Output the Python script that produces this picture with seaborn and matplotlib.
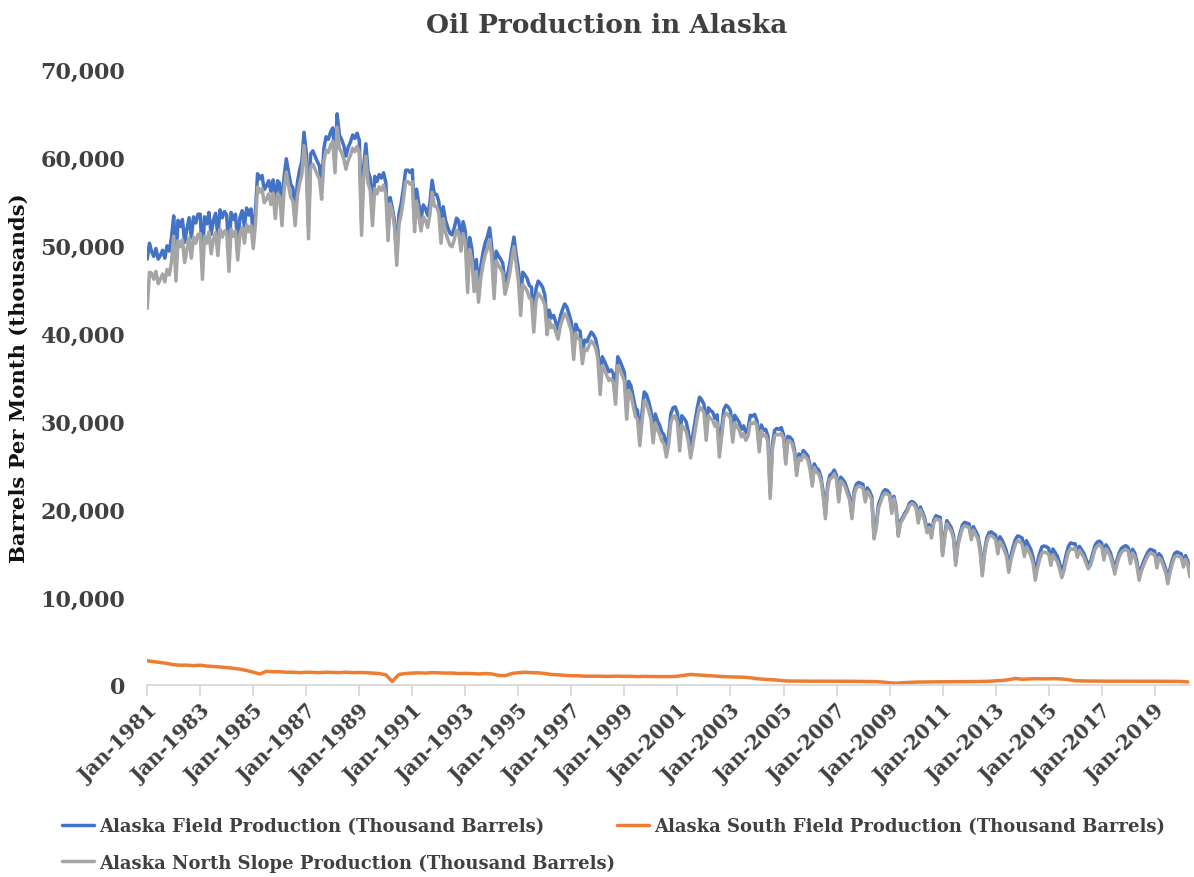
import pandas as pd
import numpy as np
import matplotlib
matplotlib.use("Agg")
import matplotlib.pyplot as plt
import matplotlib.dates as mdates
from matplotlib.ticker import FuncFormatter
import seaborn as sns

# -----------------------
# Data (thousand barrels per month), monthly from Jan-1981, one year per row
# -----------------------

field_production = [
    48400, 50200, 49300, 48700, 49600, 48400, 48800, 49400, 48500, 49900, 49300, 50800,
    53300, 48200, 52800, 52100, 52900, 50300, 51800, 53100, 50800, 53200, 52500, 53500,
    53500, 48300, 53200, 52400, 53700, 51200, 52800, 53600, 51000, 54000, 53100, 53800,
    53400, 48900, 53700, 52900, 53500, 50200, 53100, 53900, 52100, 54200, 53400, 54100,
    51100, 54000, 58100, 57500, 57900, 56300, 56700, 57300, 56100, 57400, 54500, 57300,
    57000, 53700, 57700, 59800, 58300, 56900, 56500, 53700, 57100, 58500, 59500, 62800,
    60500, 52200, 60300, 60700, 60100, 59500, 59000, 56700, 61000, 62300, 62000, 62800,
    63300, 59700, 64900, 62500, 62000, 61300, 60100, 61100, 61700, 62500, 62100, 62700,
    61900, 52500, 58900, 61500, 58400, 57600, 53600, 57800, 57200, 58000, 57600, 58200,
    57100, 51500, 55400, 54200, 52700, 48700, 53500, 54750, 56500, 58500, 58500, 58250,
    58550, 52850, 56350, 54650, 52950, 54550, 54150, 53350, 54850, 57350, 55750, 55750,
    54950, 51550, 54350, 52850, 52050, 51350, 51150, 51950, 53050, 52750, 50650, 52650,
    51550, 45950, 50850, 49550, 46050, 48350, 44850, 47550, 49150, 50250, 50950, 51950,
    49600, 45000, 49300, 48800, 48400, 47900, 45500, 46500, 47700, 49400, 50900, 49000,
    47300, 43400, 46900, 46600, 46200, 45400, 45200, 41500, 45000, 45900, 45600, 45200,
    44300, 40900, 42600, 41700, 42000, 41200, 40400, 41900, 42700, 43300, 42900, 42100,
    41200, 38000, 41000, 40400, 40200, 37500, 39200, 39000, 39600, 40100, 39800, 39300,
    38000, 34000, 37300, 36800, 36200, 35600, 35800, 35400, 32900, 37300, 36800, 36200,
    35500, 31200, 34500, 34000, 32800, 31500, 31200, 28200, 31000, 33300, 33000, 32200,
    31200, 28500, 30800, 30000, 29500, 28700, 28400, 26900, 28300, 30800, 31500, 31600,
    30900, 27700, 30600, 30300, 29900, 28700, 26900, 28400, 30000, 31500, 32700, 32400,
    31900, 28700, 31500, 31200, 31000, 30300, 30700, 26800, 29100, 31300, 31800, 31600,
    31150, 28450, 30650, 30250, 29850, 29050, 29450, 28650, 29150, 30650, 30550, 30750,
    30050, 27150, 29550, 28950, 29050, 28250, 21850, 27450, 28950, 29150, 29050, 29250,
    28450, 25550, 28250, 28150, 27850, 26750, 24250, 26250, 25950, 26650, 26350, 26050,
    24930, 23030, 25130, 24630, 24430, 23630, 21930, 19330, 22730, 23830, 24030, 24430,
    23820, 21220, 23620, 23320, 22920, 22120, 21420, 19320, 22020, 22820, 23020, 22920,
    22800, 21200, 22400, 22000, 21400, 17000, 18200, 20500, 21200, 21900, 22200, 22100,
    21750, 19750, 21450, 20250, 17150, 18650, 19050, 19550, 19950, 20650, 20850, 20750,
    20430, 18730, 20230, 19630, 18930, 17630, 18230, 17030, 18730, 19230, 19130, 19030,
    15080, 17180, 18680, 18280, 17880, 16980, 13980, 16180, 17280, 18180, 18480, 18380,
    18300, 16900, 18000, 17500, 17000, 15600, 12800, 15200, 16700, 17300, 17400, 17200,
    17050, 15450, 16850, 16450, 15850, 15150, 13350, 14750, 15750, 16550, 16950, 16850,
    16700, 15300, 16400, 15900, 15400, 14500, 12600, 14000, 15000, 15700, 15800, 15700,
    15550, 14250, 15450, 15050, 14650, 13850, 12850, 13650, 14850, 15750, 16150, 16050,
    16050, 14950, 15750, 15350, 14950, 14250, 13650, 14050, 14950, 15850, 16250, 16350,
    16130, 14630, 15930, 15530, 15030, 14130, 13030, 14230, 15030, 15530, 15730, 15830,
    15620, 14220, 15420, 15020, 14020, 12320, 13320, 14020, 14620, 15120, 15420, 15320,
    15220, 13720, 14920, 14620, 13920, 13220, 11920, 13220, 14220, 14920, 15120, 15020,
    14900, 13800, 14700, 14100, 12700,
]

north_slope_production = [
    42800, 46900, 46800, 46100, 47000, 45600, 46100, 46700, 45800, 47200, 46600, 48100,
    51000, 45900, 50500, 49800, 50600, 48000, 49500, 50800, 48500, 50900, 50200, 51200,
    51300, 46100, 51000, 50200, 51500, 49000, 50600, 51400, 48800, 51800, 50900, 51600,
    51500, 47000, 51800, 51000, 51600, 48300, 51200, 52000, 50200, 52300, 51500, 52200,
    49600, 52500, 56600, 56000, 56400, 54800, 55200, 55800, 54600, 55900, 53000, 55800,
    55500, 52200, 56200, 58300, 56800, 55400, 55000, 52200, 55600, 57000, 58000, 61300,
    59000, 50700, 58800, 59200, 58600, 58000, 57500, 55200, 59500, 60800, 60500, 61300,
    61800, 58200, 63400, 61000, 60500, 59800, 58600, 59600, 60200, 61000, 60600, 61200,
    60500, 51100, 57500, 60100, 57000, 56200, 52200, 56400, 55800, 56600, 56200, 56800,
    55800, 50500, 54700, 53800, 52000, 47700, 52300, 53500, 55200, 57200, 57200, 56900,
    57200, 51500, 55000, 53300, 51600, 53200, 52800, 52000, 53500, 56000, 54400, 54400,
    53600, 50200, 53000, 51500, 50700, 50000, 49800, 50600, 51700, 51400, 49300, 51300,
    50200, 44600, 49500, 48200, 44700, 47000, 43500, 46200, 47800, 48900, 49600, 50600,
    48500, 43900, 48200, 47700, 47300, 46800, 44400, 45400, 46600, 48300, 49800, 47900,
    45900, 42000, 45500, 45200, 44800, 44000, 43800, 40100, 43600, 44500, 44200, 43800,
    43200, 39800, 41500, 40600, 40900, 40100, 39300, 40800, 41600, 42200, 41800, 41000,
    40200, 37000, 40000, 39400, 39200, 36500, 38200, 38000, 38600, 39100, 38800, 38300,
    37000, 33000, 36300, 35800, 35200, 34600, 34800, 34400, 31900, 36300, 35800, 35200,
    34500, 30200, 33500, 33000, 31800, 30500, 30200, 27200, 30000, 32300, 32000, 31200,
    30200, 27500, 29800, 29000, 28500, 27700, 27400, 25900, 27300, 29800, 30500, 30600,
    29800, 26600, 29500, 29200, 28800, 27600, 25800, 27300, 28900, 30400, 31600, 31300,
    31000, 27800, 30600, 30300, 30100, 29400, 29800, 25900, 28200, 30400, 30900, 30700,
    30300, 27600, 29800, 29400, 29000, 28200, 28600, 27800, 28300, 29800, 29700, 29900,
    29400, 26500, 28900, 28300, 28400, 27600, 21200, 26800, 28300, 28500, 28400, 28600,
    28000, 25100, 27800, 27700, 27400, 26300, 23800, 25800, 25500, 26200, 25900, 25600,
    24500, 22600, 24700, 24200, 24000, 23200, 21500, 18900, 22300, 23400, 23600, 24000,
    23400, 20800, 23200, 22900, 22500, 21700, 21000, 18900, 21600, 22400, 22600, 22500,
    22400, 20800, 22000, 21600, 21000, 16600, 17800, 20100, 20800, 21500, 21800, 21700,
    21500, 19500, 21200, 20000, 16900, 18400, 18800, 19300, 19700, 20400, 20600, 20500,
    20100, 18400, 19900, 19300, 18600, 17300, 17900, 16700, 18400, 18900, 18800, 18700,
    14700, 16800, 18300, 17900, 17500, 16600, 13600, 15800, 16900, 17800, 18100, 18000,
    17900, 16500, 17600, 17100, 16600, 15200, 12400, 14800, 16300, 16900, 17000, 16800,
    16500, 14900, 16300, 15900, 15300, 14600, 12800, 14200, 15200, 16000, 16400, 16300,
    16000, 14600, 15700, 15200, 14700, 13800, 11900, 13300, 14300, 15000, 15100, 15000,
    14900, 13600, 14800, 14400, 14000, 13200, 12200, 13000, 14200, 15100, 15500, 15400,
    15600, 14500, 15300, 14900, 14500, 13800, 13200, 13600, 14500, 15400, 15800, 15900,
    15700, 14200, 15500, 15100, 14600, 13700, 12600, 13800, 14600, 15100, 15300, 15400,
    15200, 13800, 15000, 14600, 13600, 11900, 12900, 13600, 14200, 14700, 15000, 14900,
    14800, 13300, 14500, 14200, 13500, 12800, 11500, 12800, 13800, 14500, 14700, 14600,
    14500, 13400, 14300, 13700, 12300,
]

# quarterly readings (Jan, Apr, Jul, Oct) from Jan-1981
south_field_production = [
    2750, 2650, 2550, 2450,
    2300, 2250, 2250, 2200,
    2250, 2150, 2100, 2050,
    1980, 1900, 1800, 1650,
    1450, 1250, 1550, 1500,
    1500, 1450, 1450, 1400,
    1450, 1420, 1400, 1450,
    1420, 1400, 1450, 1400,
    1420, 1400, 1350, 1300,
    1150, 400, 1200, 1300,
    1350, 1380, 1350, 1400,
    1380, 1350, 1360, 1300,
    1320, 1300, 1250, 1300,
    1250, 1100, 1050, 1300,
    1400, 1450, 1400, 1380,
    1300, 1200, 1150, 1100,
    1050, 1050, 1000, 1000,
    1000, 980, 980, 1000,
    980, 980, 950, 980,
    960, 960, 950, 950,
    1000, 1100, 1200, 1150,
    1100, 1050, 1000, 950,
    920, 900, 880, 820,
    720, 650, 600, 560,
    480, 450, 440, 430,
    430, 430, 420, 420,
    420, 420, 420, 410,
    400, 390, 380, 330,
    250, 200, 260, 300,
    330, 340, 350, 350,
    360, 370, 370, 380,
    380, 390, 400, 420,
    480, 520, 600, 750,
    650, 680, 720, 700,
    700, 720, 680, 600,
    480, 460, 450, 440,
    440, 430, 430, 420,
    420, 420, 420, 420,
    420, 420, 410, 410,
    400, 350,
]

series_labels = [
    "Alaska Field Production (Thousand Barrels)",
    "Alaska South Field Production (Thousand Barrels)",
    "Alaska North Slope Production (Thousand Barrels)",
]
series_colors = ["#4472C4", "#ED7D31", "#A5A5A5"]

months = pd.date_range("1981-01-01", periods=len(field_production), freq="MS")
quarters = pd.date_range("1981-01-01", periods=len(south_field_production), freq="QS")

field_df = pd.DataFrame({"date": months, "value": field_production})
north_df = pd.DataFrame({"date": months, "value": north_slope_production})
south_df = pd.DataFrame({"date": quarters, "value": south_field_production})

# -----------------------
# Plot
# -----------------------

sns.set_theme(style="white")
plt.rcParams["font.family"] = ["DejaVu Serif"]
text_color = "#404040"

fig = plt.figure(figsize=(11.94, 8.78), dpi=100)
ax = fig.add_axes([0.1233, 0.2187, 0.8733, 0.7016])

sns.lineplot(data=field_df, x="date", y="value", ax=ax, color=series_colors[0], lw=2.5)
sns.lineplot(data=south_df, x="date", y="value", ax=ax, color=series_colors[1], lw=2.5)
sns.lineplot(data=north_df, x="date", y="value", ax=ax, color=series_colors[2], lw=2.5)

ax.set_xlim(months[0], months[-1])
ax.set_ylim(0, 70000)
ax.set_yticks(range(0, 70001, 10000))
ax.yaxis.set_major_formatter(FuncFormatter(lambda v, p: f"{int(v):,}"))

ax.set_xticks(pd.date_range("1981-01-01", "2019-01-01", freq="24MS"))
ax.xaxis.set_major_formatter(mdates.DateFormatter("%b-%Y"))

for s in ["top", "right", "left"]:
    ax.spines[s].set_visible(False)
ax.spines["bottom"].set_color("#D9D9D9")
ax.spines["bottom"].set_linewidth(1.3)

ax.tick_params(axis="y", length=0, pad=16, labelsize=16, labelcolor=text_color)
ax.tick_params(axis="x", length=8, width=1.3, color="#D9D9D9", pad=3,
               labelsize=14.5, labelcolor=text_color, bottom=True)
for lbl in ax.get_yticklabels():
    lbl.set_fontweight("bold")
for lbl in ax.get_xticklabels():
    lbl.set_fontweight("bold")
    lbl.set_rotation(45)
    lbl.set_ha("right")
    lbl.set_va("top")
    lbl.set_rotation_mode("anchor")

ax.set_xlabel("")
ax.set_ylabel("Barrels Per Month (thousands)", fontsize=15.2, fontweight="bold", color="#111111")
ax.yaxis.set_label_coords(-0.114, 0.5)

fig.text(0.508, 0.971, "Oil Production in Alaska", ha="center", va="center",
         fontsize=19, fontweight="bold", color=text_color)

lines = ax.get_lines()
leg = fig.legend(handles=[lines[0], lines[2], lines[1]],
                 labels=[series_labels[0], series_labels[2], series_labels[1]],
                 ncol=2, loc="upper left", bbox_to_anchor=(0.052, 0.068),
                 frameon=False, borderpad=0, borderaxespad=0,
                 handlelength=1.75, handletextpad=0.3, columnspacing=0.1,
                 labelspacing=1.0, prop={"size": 13, "weight": "bold"})
for t in leg.get_texts():
    t.set_color(text_color)

fig.savefig("out.png", dpi=100)
